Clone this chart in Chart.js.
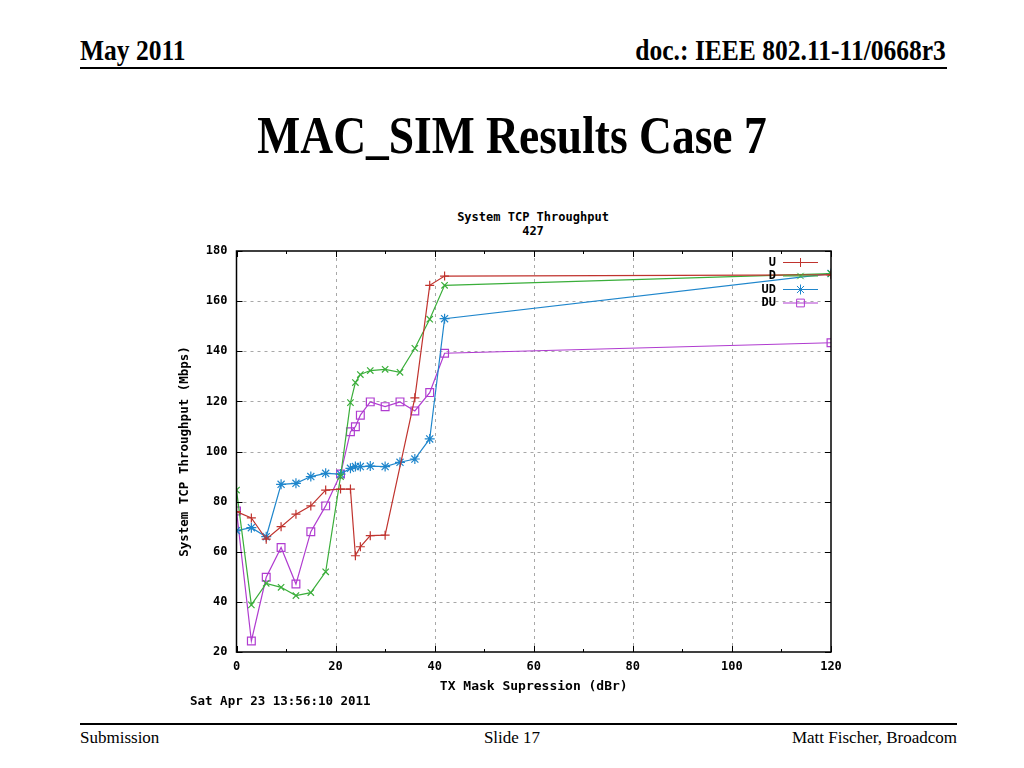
<!DOCTYPE html>
<html>
<head>
<meta charset="utf-8">
<script src="https://cdn.jsdelivr.net/npm/chart.js@4/dist/chart.umd.min.js"></script>
<style>
  body { margin: 0; background: #fff; width: 1024px; height: 768px; position: relative; overflow: hidden; }
  .serif { font-family: "Liberation Serif", "Times New Roman", serif; position: absolute; white-space: nowrap; color: #000; }
  .mono { font-family: "DejaVu Sans Mono", monospace; font-weight: bold; font-size: 12.5px; position: absolute; white-space: nowrap; color: #000; }
  .rule { position: absolute; background: #000; height: 2px; }
  #wrap { position: absolute; left: 170px; top: 200px; width: 680px; height: 495px; }
</style>
</head>
<body>
<div class="serif" style="left:80px; top:34px; font-size:29px; font-weight:bold; transform:scaleX(0.88); transform-origin:left top;">May 2011</div>
<div class="serif" style="right:78px; top:34px; font-size:29px; font-weight:bold; transform:scaleX(0.88); transform-origin:right top;">doc.: IEEE 802.11-11/0668r3</div>
<div class="rule" style="left:80px; top:67px; width:867px;"></div>

<div class="serif" style="left:0; width:1024px; top:106px; text-align:center; font-size:52px; font-weight:bold; transform:scaleX(0.875);">MAC_SIM Results Case 7</div>

<div class="mono" style="left:0; width:1066px; top:210px; text-align:center; font-size:12px; line-height:14px;">System TCP Throughput<br>427</div>

<div id="wrap"><canvas id="chart-1" width="680" height="495"></canvas></div>

<div class="mono" style="left:190px; top:693px;">Sat Apr 23 13:56:10 2011</div>

<div class="rule" style="left:80px; top:723px; width:877px;"></div>
<div class="serif" style="left:80px; top:728px; font-size:17px;">Submission</div>
<div class="serif" style="left:0; width:1024px; top:728px; text-align:center; font-size:17px;">Slide 17</div>
<div class="serif" style="right:67px; top:728px; font-size:17px;">Matt Fischer, Broadcom</div>

<script>
// TX mask suppression (dBr) for each measured point
const suppressionU = [0, 3, 6, 9, 12, 15, 18, 21, 23, 24, 25, 27, 30, 36, 39, 42, 120];
const suppression = [0, 3, 6, 9, 12, 15, 18, 21, 23, 24, 25, 27, 30, 33, 36, 39, 42, 120];

// throughput in Mbps
const throughputU = [76, 73.5, 65, 70, 75, 78.3, 84.6, 85, 85, 58.4, 62, 66.4, 66.6, 121.4, 166.3, 170, 170.5];
const throughputD = [84.6, 38.8, 47.4, 45.8, 42.5, 43.7, 52, 90, 119.5, 127.5, 130.7, 132.3, 132.8, 131.6, 141.2, 152.8, 166.3, 171];
const throughputUD = [68.4, 69.6, 66, 86.9, 87.3, 90, 91.3, 91, 93.3, 94, 94, 94.2, 94, 95.7, 97, 105, 153, 171];
const throughputDU = [76.3, 24.4, 49.8, 61.7, 47.1, 68, 78.3, 91, 107.9, 109.9, 114.5, 119.8, 117.9, 119.8, 116.2, 123.5, 139.2, 143.4];

const xTicks = [0, 20, 40, 60, 80, 100, 120];
const yTicks = [20, 40, 60, 80, 100, 120, 140, 160, 180];

const toPoints = (xs, ys) => xs.map((x, i) => ({ x: x, y: ys[i] }));

const tickFont = { family: 'DejaVu Sans Mono', weight: 'bold', size: 12 };

// dashed grid, black frame and gnuplot-like inward ticks
const framePlugin = {
    id: 'frame',
    beforeDatasetsDraw(chart) {
        const { ctx, chartArea: a, scales: { x, y } } = chart;
        ctx.save();
        ctx.strokeStyle = '#a8a8a8';
        ctx.lineWidth = 1;
        ctx.setLineDash([3, 4]);
        xTicks.slice(1, -1).forEach(v => {
            const px = Math.round(x.getPixelForValue(v)) + 0.5;
            ctx.beginPath(); ctx.moveTo(px, a.top); ctx.lineTo(px, a.bottom); ctx.stroke();
        });
        yTicks.slice(1, -1).forEach(v => {
            const py = Math.round(y.getPixelForValue(v)) + 0.5;
            ctx.beginPath(); ctx.moveTo(a.left, py); ctx.lineTo(a.right, py); ctx.stroke();
        });
        ctx.restore();
    },
    afterDatasetsDraw(chart) {
        const { ctx, chartArea: a, scales: { x, y } } = chart;
        ctx.save();
        ctx.strokeStyle = '#000';
        ctx.lineWidth = 1.5;
        ctx.strokeRect(a.left, a.top, a.right - a.left, a.bottom - a.top);
        ctx.lineWidth = 1;
        for (let v = 0; v <= 120; v += 10) {
            const px = Math.round(x.getPixelForValue(v)) + 0.5;
            const len = v % 20 === 0 ? 6 : 3;
            ctx.beginPath();
            ctx.moveTo(px, a.bottom); ctx.lineTo(px, a.bottom - len);
            ctx.moveTo(px, a.top); ctx.lineTo(px, a.top + len);
            ctx.stroke();
        }
        yTicks.forEach(v => {
            const py = Math.round(y.getPixelForValue(v)) + 0.5;
            ctx.beginPath();
            ctx.moveTo(a.left, py); ctx.lineTo(a.left + 6, py);
            ctx.moveTo(a.right, py); ctx.lineTo(a.right - 6, py);
            ctx.stroke();
        });
        ctx.restore();
    }
};

// legend inside the top right corner, labels right aligned
const keyPlugin = {
    id: 'key',
    afterDatasetsDraw(chart) {
        const { ctx, chartArea: a } = chart;
        ctx.save();
        ctx.font = 'bold 12px "DejaVu Sans Mono"';
        ctx.textAlign = 'right';
        ctx.textBaseline = 'middle';
        chart.data.datasets.forEach((ds, i) => {
            const yy = a.top + 11.5 + 13.5 * i;
            ctx.fillStyle = '#000';
            ctx.fillText(ds.label, a.right - 55, yy);
            ctx.strokeStyle = ds.borderColor;
            ctx.lineWidth = 1;
            ctx.beginPath();
            ctx.moveTo(a.right - 48, yy); ctx.lineTo(a.right - 13, yy);
            ctx.stroke();
            ctx.fillStyle = 'rgba(0,0,0,0)';
            Chart.helpers.drawPoint(ctx, {
                pointStyle: ds.pointStyle, radius: ds.pointRadius, borderWidth: 1
            }, a.right - 30.5, yy);
        });
        ctx.restore();
    }
};

function series(label, xs, ys, color, style, radius) {
    return {
        label: label,
        data: toPoints(xs, ys),
        borderColor: color,
        backgroundColor: 'rgba(0,0,0,0)',
        borderWidth: 1.2,
        pointStyle: style,
        pointRadius: radius,
        pointBorderWidth: 1.2,
        pointBorderColor: color,
        pointBackgroundColor: 'rgba(0,0,0,0)'
    };
}

const ctx1 = document.getElementById('chart-1').getContext('2d');
const chart1 = new Chart(ctx1, {
    type: 'line',
    data: {
        datasets: [
            series('U', suppressionU, throughputU, '#c0332e', 'cross', 4.5),
            series('D', suppression, throughputD, '#3aae3a', 'crossRot', 4.5),
            series('UD', suppression, throughputUD, '#1f86cc', 'star', 5),
            series('DU', suppression, throughputDU, '#b03cd0', 'rect', 5.5)
        ]
    },
    options: {
        responsive: false,
        animation: false,
        devicePixelRatio: 1,
        layout: { padding: { top: 51, right: 19, left: 0, bottom: 0 } },
        plugins: { legend: { display: false }, tooltip: { enabled: false } },
        scales: {
            x: {
                type: 'linear',
                min: 0,
                max: 120,
                afterBuildTicks: s => { s.ticks = xTicks.map(v => ({ value: v })); },
                afterFit: s => { s.height = 43; },
                grid: { display: false, drawTicks: false },
                border: { display: false },
                ticks: { color: '#000', font: tickFont, padding: 8, maxRotation: 0 },
                title: { display: true, text: 'TX Mask Supression (dBr)', color: '#000',
                    font: { family: 'DejaVu Sans Mono', weight: 'bold', size: 13 }, padding: { top: 0, bottom: 1 } }
            },
            y: {
                min: 20,
                max: 180,
                afterBuildTicks: s => { s.ticks = yTicks.map(v => ({ value: v })); },
                afterFit: s => { s.width = 66.5; },
                grid: { display: false, drawTicks: false },
                border: { display: false },
                ticks: { color: '#000', font: tickFont, padding: 9 },
                title: { display: true, text: 'System TCP Throughput (Mbps)', color: '#000',
                    font: { family: 'DejaVu Sans Mono', weight: 'bold', size: 12.5 }, padding: { top: 7, bottom: 0 } }
            }
        }
    },
    plugins: [framePlugin, keyPlugin]
});
</script>
</body>
</html>
